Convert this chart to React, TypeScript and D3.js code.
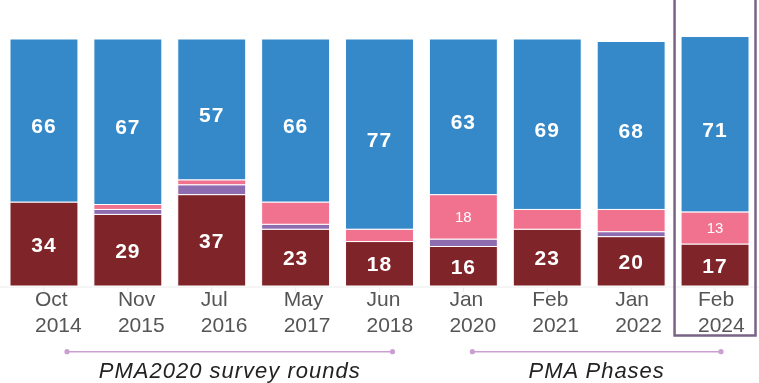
import React from "react";
import * as d3 from "d3";

const months = ["Oct", "Nov", "Jul", "May", "Jun", "Jan", "Feb", "Jan", "Feb"];
const years = ["2014", "2015", "2016", "2017", "2018", "2020", "2021", "2022", "2024"];
const maroonVals = [34, 29, 37, 23, 18, 16, 23, 20, 17];
const purpleVals = [0, 2, 4, 2, 0, 3, 0, 2, 0];
const pinkVals = [0, 2, 2, 9, 5, 18, 8, 9, 13];
const blueVals = [66, 67, 57, 66, 77, 63, 69, 68, 71];
const pinkLabelShown = [false, false, false, false, false, true, false, false, true];
const groupNames = ["PMA2020 survey rounds", "PMA Phases"];
const groupStart = [0, 5];
const groupEnd = [4, 8];
const highlightIndex = 8;

const W = 759;
const H = 383;
const colors = ["#7f2429", "#8d6db0", "#f0728e", "#3589c9"];
const FONT = "'Liberation Sans', Arial, sans-serif";

export default function App() {
  const cats = months.map((m, i) => `${m} ${years[i]}`);
  const x = d3.scaleBand<string>().domain(cats).range([10, 749]).paddingInner(0.19).paddingOuter(0);
  const y = d3.scaleLinear().domain([0, 100]).range([286, 39]);
  const labelX = d3.scalePoint<string>().domain(cats).range([35, 698]);
  const labelCenter = d3.scalePoint<string>().domain(cats).range([58, 721]);

  const rows = cats.map((c, i) => ({
    cat: c,
    maroon: maroonVals[i],
    purple: purpleVals[i],
    pink: pinkVals[i],
    blue: blueVals[i],
  }));
  const keys = ["maroon", "purple", "pink", "blue"];
  const stacked = d3.stack<any>().keys(keys)(rows);
  const bw = x.bandwidth();

  return (
    <div style={{ position: "fixed", left: 0, top: 0 }}>
      <svg width={W} height={H} style={{ display: "block", fontFamily: FONT }}>
        <line x1={0} x2={W} y1={287} y2={287} stroke="#ebebeb" strokeWidth={1} />
        {cats.map((c) => (
          <line key={"t" + c} x1={x(c)! + bw / 2} x2={x(c)! + bw / 2} y1={287} y2={292} stroke="#ebebeb" />
        ))}
        {stacked.map((series, si) => (
          <g key={series.key}>
            {series.map((d, i) => {
              const h = y(d[0]) - y(d[1]);
              if (h <= 0) return null;
              return (
                <rect
                  key={i}
                  x={x(cats[i])}
                  y={y(d[1])}
                  width={bw}
                  height={h}
                  fill={colors[si]}
                  stroke="#fff"
                  strokeWidth={1}
                />
              );
            })}
          </g>
        ))}
        {stacked.map((series, si) =>
          series.map((d, i) => {
            const v = d[1] - d[0];
            const cx = x(cats[i])! + bw / 2;
            const cy = (y(d[0]) + y(d[1])) / 2;
            if (si === 0 || si === 3) {
              return (
                <text
                  key={`l${si}-${i}`}
                  x={cx}
                  y={cy + (si === 3 ? 5 : 0)}
                  textAnchor="middle"
                  dominantBaseline="central"
                  fill="#fff"
                  fontWeight="bold"
                  fontSize={21}
                  letterSpacing={1}
                >
                  {v}
                </text>
              );
            }
            if (si === 2 && pinkLabelShown[i]) {
              return (
                <text
                  key={`l${si}-${i}`}
                  x={cx}
                  y={cy}
                  textAnchor="middle"
                  dominantBaseline="central"
                  fill="#fff"
                  fontSize={15}
                >
                  {v}
                </text>
              );
            }
            return null;
          })
        )}
        {cats.map((c, i) => (
          <text key={"x" + c} x={labelX(c)} fill="#555" fontSize={21} textAnchor="start">
            <tspan x={labelX(c)} y={306}>{months[i]}</tspan>
            <tspan x={labelX(c)} y={332}>{years[i]}</tspan>
          </text>
        ))}
        <rect
          x={x(cats[highlightIndex])! - 6.5}
          y={-5}
          width={bw + 13}
          height={340.5}
          fill="none"
          stroke="#7a6385"
          strokeWidth={2.5}
        />
        {groupNames.map((g, gi) => {
          const x1 = labelCenter(cats[groupStart[gi]])! + (gi === 0 ? 9 : 0);
          const x2 = labelCenter(cats[groupEnd[gi]])! + (gi === 0 ? 3 : 0);
          return (
            <g key={g}>
              <line x1={x1} x2={x2} y1={351.7} y2={351.7} stroke="#cc9fd3" strokeWidth={1.5} />
              <circle cx={x1} cy={351.7} r={2.6} fill="#cc9fd3" />
              <circle cx={x2} cy={351.7} r={2.6} fill="#cc9fd3" />
              <text
                x={(x1 + x2) / 2}
                y={378}
                textAnchor="middle"
                fontStyle="italic"
                fontSize={22}
                letterSpacing={1}
                fill="#222"
              >
                {g}
              </text>
            </g>
          );
        })}
      </svg>
    </div>
  );
}
